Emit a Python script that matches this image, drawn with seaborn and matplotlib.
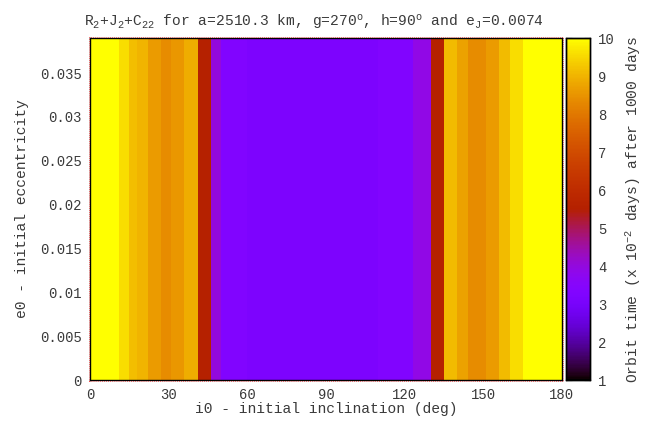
import numpy as np
import pandas as pd
import seaborn as sns
import matplotlib.pyplot as plt
from matplotlib.ticker import MultipleLocator
from matplotlib.patches import Rectangle

# band edges in inclination (deg) and orbit time value of each band (x 1e-2 days)
band_edges = [0, 11, 15, 18, 22, 27, 31, 36, 41, 46, 50, 60, 110, 123, 130, 135,
              140, 144, 151, 156, 160, 165, 180]
band_values = [10.0, 9.55, 9.15, 9.0, 8.6, 8.35, 8.55, 8.9, 5.55, 4.0, 3.3, 3.15,
               3.3, 3.9, 5.55, 9.1, 8.7, 8.35, 8.6, 9.1, 9.55, 10.0]

ecc_step = 0.001
ecc_max = 0.039
x_ticks = [0, 30, 60, 90, 120, 150, 180]
y_ticks = [0, 0.005, 0.01, 0.015, 0.02, 0.025, 0.03, 0.035]
y_labels = ["0", "0.005", "0.01", "0.015", "0.02", "0.025", "0.03", "0.035"]
cbar_ticks = [1, 2, 3, 4, 5, 6, 7, 8, 9, 10]

# expand bands to 1 deg columns, rows of eccentricity
widths = np.diff(band_edges)
col_vals = np.repeat(band_values, widths)
n_rows = int(round(ecc_max / ecc_step))
grid = pd.DataFrame(np.tile(col_vals, (n_rows, 1)))

sns.set_style("white")
plt.rcParams['font.family'] = ['Liberation Mono', 'DejaVu Sans Mono']
plt.rcParams['mathtext.fontset'] = 'custom'
plt.rcParams['mathtext.rm'] = 'Liberation Mono'
plt.rcParams['mathtext.it'] = 'Liberation Mono'
plt.rcParams['mathtext.default'] = 'rm'

txt = '#3a3a3a'
fig = plt.figure(figsize=(6.46, 4.23), dpi=100)
ax = fig.add_axes([90/646, 1-380/423, 472/646, 342/423])
cax = fig.add_axes([566/646, 1-380/423, 24/646, 342/423])

sns.heatmap(grid, ax=ax, cbar_ax=cax, cmap='gnuplot', vmin=1, vmax=10,
            xticklabels=False, yticklabels=False)
ax.set_ylim(0, n_rows)
ax.set_xlim(0, 180)

ax.set_xticks(x_ticks)
ax.set_xticklabels([str(t) for t in x_ticks], color=txt, fontsize=10)
ax.set_yticks([t / ecc_step for t in y_ticks])
ax.set_yticklabels(y_labels, color=txt, fontsize=10)
ax.xaxis.set_minor_locator(MultipleLocator(10))
ax.yaxis.set_minor_locator(MultipleLocator(1))
ax.tick_params(which='both', direction='in', top=True, right=True, color='black')
ax.tick_params(which='major', length=5, pad=6)
ax.tick_params(which='minor', length=3)
for s in ax.spines.values():
    s.set_visible(True)
    s.set_color('black')
    s.set_linewidth(1)

# thin red dotted frame around the plot area, as in the original
fig.patches.append(Rectangle((89/646, 1-381/423), 474/646, 344/423,
                             transform=fig.transFigure, fill=False,
                             edgecolor='red', linestyle=(0, (1, 2)),
                             linewidth=0.5, zorder=0))

ax.set_xlabel("i0 - initial inclination (deg)", color=txt, fontsize=10.5, labelpad=0)
ax.set_ylabel("e0 - initial eccentricity", color=txt, fontsize=10.5, labelpad=8)
ax.set_title(r"R$_2$+J$_2$+C$_{22}$ for a=2510.3 km, g=270$^o$, h=90$^o$ and e$_J$=0.0074",
             color=txt, fontsize=10.5, pad=8, x=0.475)

cax.set_yticks(cbar_ticks)
cax.set_yticklabels([str(t) for t in cbar_ticks], color=txt, fontsize=10)
cax.tick_params(direction='in', left=True, right=True, length=4, color='black', pad=6)
for s in cax.spines.values():
    s.set_visible(True)
    s.set_color('black')
    s.set_linewidth(1)
cax.set_ylabel(r"Orbit time (x 10$^{-2}$ days) after 1000 days", color=txt,
               fontsize=10.5, labelpad=6)

fig.savefig("out.png", dpi=100)
